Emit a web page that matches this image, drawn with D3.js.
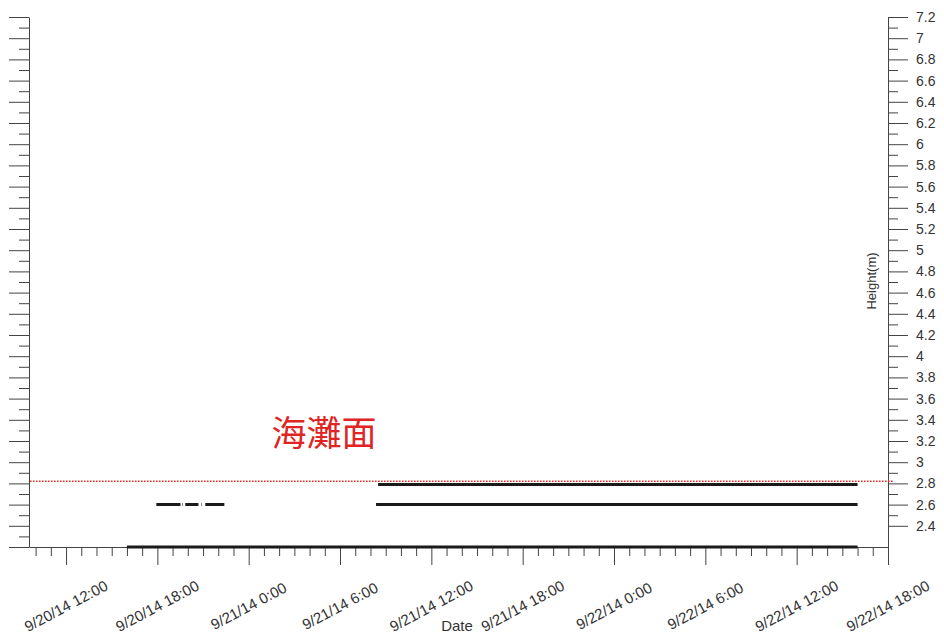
<!DOCTYPE html>
<html>
<head>
<meta charset="utf-8">
<script src="https://cdn.jsdelivr.net/npm/d3@7"></script>
<style>
  body { margin: 0; background: #fff; }
  svg { display: block; }
  .axis text { font-family: "Liberation Sans", Arial, sans-serif; font-size: 14px; fill: #333; }
  .axis line, .axis path { stroke: #444; }
</style>
</head>
<body>
<script>
// data
const xStart = "2014-09-20 09:34";
const xEnd = "2014-09-22 18:00";
const yMin = 2.2, yMax = 7.2;

const lowerTimes  = ["2014-09-20 16:00", "2014-09-22 16:00"];
const lowerValues = [2.2, 2.2];

const midTimes  = ["2014-09-20 17:56", "2014-09-20 19:31", "2014-09-20 19:35",
                   "2014-09-20 19:39", "2014-09-20 19:41", "2014-09-20 19:45",
                   "2014-09-20 19:50", "2014-09-20 20:42", "2014-09-20 20:47",
                   "2014-09-20 20:53", "2014-09-20 20:55", "2014-09-20 21:00",
                   "2014-09-20 21:09", "2014-09-20 22:24", "2014-09-21 04:00",
                   "2014-09-21 08:22", "2014-09-22 16:00"];
const midValues = [2.6, 2.6, null, 2.6, 2.6, null, 2.6, 2.6, null, 2.6, 2.6, null,
                   2.6, 2.6, null, 2.6, 2.6];

const upperTimes  = ["2014-09-21 08:30", "2014-09-22 16:00"];
const upperValues = [2.79, 2.79];

const beachLevel = 2.82;
const beachLabel = "海灘面";
const xTitle = "Date";
const yTitle = "Height(m)";

const W = 944, H = 637;
const parse = d3.timeParse("%Y-%m-%d %H:%M");

const x = d3.scaleTime().domain([parse(xStart), parse(xEnd)]).range([29, 888]);
const y = d3.scaleLinear().domain([yMin, yMax]).range([547, 17]);

const svg = d3.select("body").append("svg")
    .attr("width", W)
    .attr("height", H);

// y ticks every 0.1, long every 0.2
const yTicks = d3.range(22, 73).map(d => d / 10);
const isMajor = v => Math.round(v * 10) % 2 === 0;

const leftAxis = svg.append("g")
    .attr("class", "axis")
    .attr("transform", "translate(29,0)")
    .call(d3.axisLeft(y).tickValues(yTicks).tickSize(20).tickSizeOuter(0).tickFormat(""));
leftAxis.selectAll(".tick line").attr("x2", d => isMajor(d) ? -20 : -10);

const rightTicks = yTicks.filter(v => v >= 2.4);
const rightAxis = svg.append("g")
    .attr("class", "axis")
    .attr("transform", "translate(888,0)")
    .call(d3.axisRight(y).tickValues(rightTicks).tickSize(20).tickSizeOuter(0)
        .tickFormat(v => isMajor(v) ? d3.format("")(+v.toFixed(1)) : ""));
rightAxis.selectAll(".tick line").attr("x2", d => isMajor(d) ? 20 : 10);
rightAxis.selectAll(".tick text").attr("x", 28);
// right axis line runs down to the x tick ends
rightAxis.append("line")
    .attr("x1", 0.5).attr("x2", 0.5)
    .attr("y1", y(yMin)).attr("y2", 565)
    .attr("stroke", "#444");

// x axis: hourly ticks, long + labelled every 6 hours
const xTicks = d3.timeHour.range(d3.timeHour.ceil(x.domain()[0]), d3.timeHour.offset(x.domain()[1], 1));
const isSix = d => d.getHours() % 6 === 0;
const fmt = d3.timeFormat("%-m/%-d/%y %-H:%M");

const xAxis = svg.append("g")
    .attr("class", "axis")
    .attr("transform", "translate(0,547)")
    .call(d3.axisBottom(x).tickValues(xTicks).tickSize(18).tickSizeOuter(0).tickFormat(""));
xAxis.selectAll(".tick line").attr("y2", d => isSix(d) ? 18 : 9);

svg.append("g")
    .attr("class", "axis")
    .selectAll("text")
    .data(xTicks.filter(isSix))
    .join("text")
    .attr("transform", d => "translate(" + x(d) + ",606) rotate(-28)")
    .attr("text-anchor", "middle")
    .attr("dy", "0.35em")
    .style("font-size", "15px")
    .text(fmt);

svg.append("text")
    .attr("x", 457).attr("y", 631)
    .attr("text-anchor", "middle")
    .style("font-family", "Liberation Sans, Arial, sans-serif")
    .style("font-size", "15px").style("fill", "#333")
    .text(xTitle);

svg.append("text")
    .attr("transform", "translate(876,281) rotate(-90)")
    .attr("text-anchor", "middle")
    .style("font-family", "Liberation Sans, Arial, sans-serif")
    .style("font-size", "13px").style("fill", "#333")
    .text(yTitle);

// beach surface reference line
svg.append("line")
    .attr("x1", 30).attr("x2", 893)
    .attr("y1", y(beachLevel)).attr("y2", y(beachLevel))
    .attr("stroke", "#e8302a")
    .attr("stroke-width", 1.6)
    .attr("stroke-dasharray", "1.6,1.4");

svg.append("text")
    .attr("x", 324).attr("y", 446)
    .attr("text-anchor", "middle")
    .style("font-family", "Noto Sans CJK TC, sans-serif")
    .style("font-size", "35px")
    .style("fill", "#e02424")
    .text(beachLabel);

// series
const line = d3.line()
    .defined(d => d[1] !== null)
    .x(d => x(d[0]))
    .y(d => y(d[1]));

const series = [
    [lowerTimes, lowerValues],
    [midTimes, midValues],
    [upperTimes, upperValues]
].map(([t, v]) => t.map((s, i) => [parse(s), v[i]]));

svg.append("g")
    .selectAll("path")
    .data(series)
    .join("path")
    .attr("d", line)
    .attr("fill", "none")
    .attr("stroke", "#1a1a1a")
    .attr("stroke-width", 3);
</script>
</body>
</html>
